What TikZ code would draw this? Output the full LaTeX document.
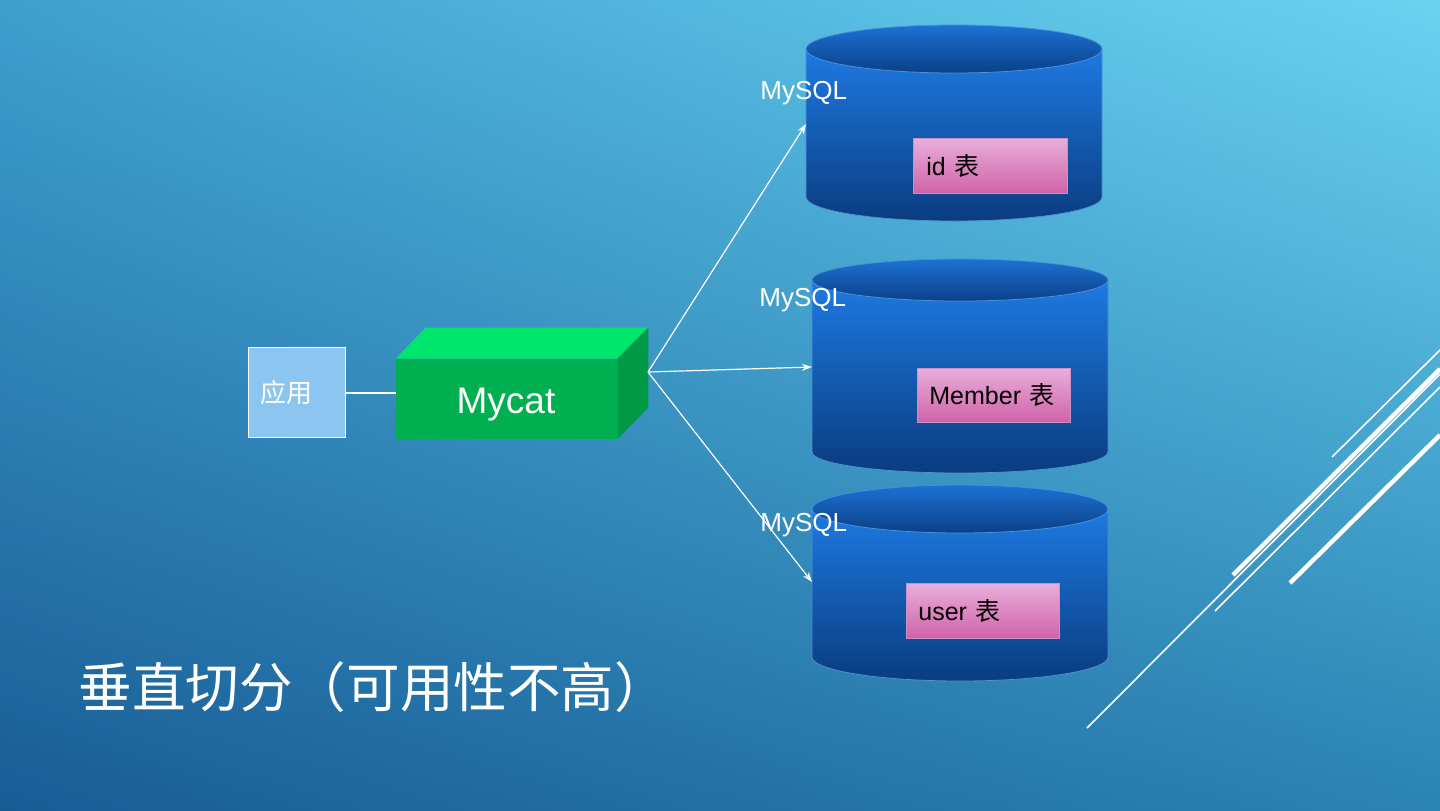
\documentclass[tikz,border=0pt]{standalone}
\usepackage{fontspec}
\setmainfont{Liberation Sans}
\newfontfamily\cjk{Noto Sans CJK SC}
\usetikzlibrary{arrows.meta,shadings}
\definecolor{bgUL}{HTML}{3E9FCF}
\definecolor{bgUR}{HTML}{6AD3F0}
\definecolor{bgLL}{HTML}{185C96}
\definecolor{bgLR}{HTML}{2B83B4}
\definecolor{appfill}{HTML}{8CC5EF}
\definecolor{gfront}{HTML}{00B050}
\definecolor{gtop}{HTML}{00E66C}
\definecolor{gside}{HTML}{009A46}
\definecolor{cylTop}{HTML}{1E7AE2}
\definecolor{cylBot}{HTML}{0A3C80}
\definecolor{capTop}{HTML}{1C72D4}
\definecolor{capBot}{HTML}{0B4088}
\definecolor{cylEdge}{HTML}{4C90D6}
\definecolor{pinkTop}{HTML}{E8AEDA}
\definecolor{pinkBot}{HTML}{D062A8}
\definecolor{pinkEdge}{HTML}{C890C8}
\tikzset{
  appbox/.style={draw=white, line width=0.5pt, fill=appfill, minimum width=48.5pt, minimum height=45pt, inner sep=0pt},
  frontface/.style={fill=gfront, minimum width=110.5pt, minimum height=40pt, inner sep=0pt},
  tablebox/.style={draw=pinkEdge, line width=0.4pt, top color=pinkTop, bottom color=pinkBot, anchor=north west, inner xsep=6pt, inner ysep=0pt, text=black, font=\fontsize{12.5}{15}\selectfont, align=left},
  dblabel/.style={anchor=west, inner sep=0pt, text=white, font=\fontsize{13}{15}\selectfont},
  conn/.style={draw=white, line width=0.6pt},
  arr/.style={conn, -{Stealth[length=5pt,width=3.5pt]}},
  thinline/.style={draw=white, line width=0.8pt},
  thickline/.style={draw=white, line width=2.2pt},
  cylbody/.style={top color=cylTop, bottom color=cylBot, draw=cylEdge, line width=0.4pt},
  cylcap/.style={top color=capTop, bottom color=capBot, draw=cylEdge, line width=0.4pt},
}
\newcommand{\dbcyl}[5]{% x1, x2, ytopcenter, ybotcenter, ry
  \pgfmathsetmacro{\rx}{(#2-#1)/2}
  \pgfmathsetmacro{\cx}{(#2+#1)/2}
  \path[cylbody] (#1,#3) -- (#1,#4) arc[start angle=180, end angle=0, x radius=\rx, y radius=#5] -- (#2,#3) -- cycle;
  \path[cylcap] (\cx,#3) ellipse[x radius=\rx, y radius=#5];
}
\begin{document}
\begin{tikzpicture}[x=0.5pt,y=-0.5pt]
\shade[upper left=bgUL, upper right=bgUR, lower left=bgLL, lower right=bgLR] (0,0) rectangle (1440,810);
\useasboundingbox (0,0) rectangle (1440,810);

% decorative lines
\path[thinline] (1332,457) -- (1440,350);
\path[thickline] (1233,575) -- (1440,369);
\path[thinline] (1215,611) -- (1440,387);
\path[thickline] (1290,583) -- (1440,435);
\path[thinline] (1087,728) -- (1440,374);

% cylinders
\dbcyl{806}{1102}{49}{197}{24}
\dbcyl{812}{1108}{280}{452}{21}
\dbcyl{812}{1108}{509}{657}{24}

% tables
\node[tablebox, minimum width=77pt, minimum height=27.5pt, text width=64pt] (t1) at (913,138) {id {\cjk 表}};
\node[tablebox, minimum width=76.5pt, minimum height=27pt, text width=64.5pt] (t2) at (917,368) {Member {\cjk 表}};
\node[tablebox, minimum width=76.5pt, minimum height=27.5pt, text width=64.5pt] (t3) at (906,583) {user {\cjk 表}};

% app
\node[appbox] (app) at (296.5,392) {};
\node[text=white, font=\cjk\fontsize{13}{15}\selectfont, inner sep=0pt] (apptext) at (286,393) {应用};

% mycat box
\node[frontface] (mycat) at (506.5,399) {};
\fill[gtop] (mycat.north west) -- ++(30,-31) -- ++(222,0) -- (mycat.north east) -- cycle;
\fill[gside] (mycat.north east) -- ++(31,-31) -- ++(0,80) -- (mycat.south east) -- cycle;
\node[text=white, inner sep=0pt, font=\fontsize{18.5}{22}\selectfont] (mycattext) at (506,405) {Mycat};

% connectors
\coordinate (mout) at (648,372);
\coordinate (db1in) at (806,124);
\coordinate (db2in) at (812,367);
\coordinate (db3in) at (812,582);
\path[conn] (app.east |- 0,393) -- (mycat.west |- 0,393);
\path[arr] (mout) -- (db1in);
\path[arr] (mout) -- (db2in);
\path[arr] (mout) -- (db3in);

% labels
\node[dblabel] (l1) at (760,93) {MySQL};
\node[dblabel] (l2) at (759,300) {MySQL};
\node[dblabel] (l3) at (760,525) {MySQL};

% title
\node[anchor=west, inner sep=0pt, text=white, font=\cjk\fontsize{26.8}{32}\selectfont] (title) at (78,687) {垂直切分（可用性不高）};
\end{tikzpicture}
\end{document}
